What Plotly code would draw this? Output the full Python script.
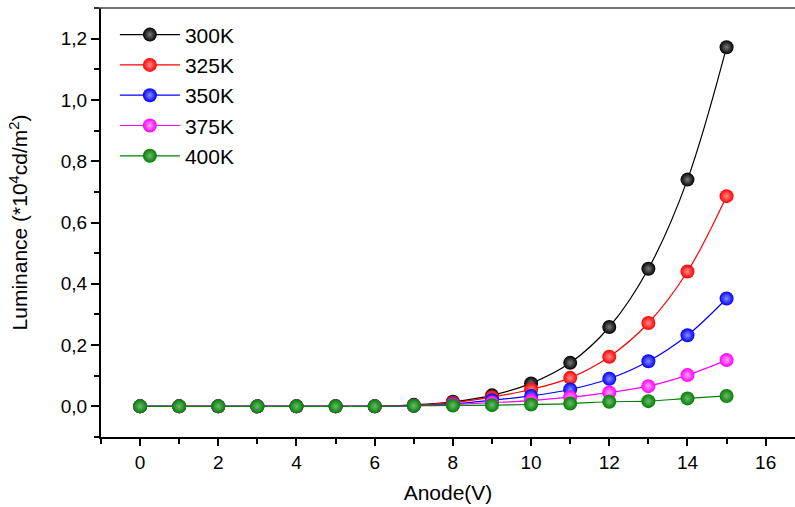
import plotly.graph_objects as go

anode_v = list(range(16))
lum_300K = [0, 0, 0, 0, 0, 0, 0, 0.005, 0.015, 0.036, 0.075, 0.142, 0.259, 0.449, 0.740, 1.172]
lum_325K = [0, 0, 0, 0, 0, 0, 0, 0.003, 0.012, 0.030, 0.055, 0.093, 0.162, 0.272, 0.440, 0.686]
lum_350K = [0, 0, 0, 0, 0, 0, 0, 0.002, 0.008, 0.020, 0.034, 0.055, 0.090, 0.147, 0.232, 0.352]
lum_375K = [0, 0, 0, 0, 0, 0, 0, 0.002, 0.006, 0.012, 0.019, 0.030, 0.045, 0.066, 0.102, 0.151]
lum_400K = [0, 0, 0, 0, 0, 0, 0, 0.002, 0.003, 0.004, 0.006, 0.009, 0.015, 0.017, 0.026, 0.034]

series_names = ["300K", "325K", "350K", "375K", "400K"]
series_values = [lum_300K, lum_325K, lum_350K, lum_375K, lum_400K]
colors = ["#000000", "#ff0000", "#0000ff", "#ff00ff", "#008000"]
highlights = ["#7a7a7a", "#ff8a8a", "#8a8aff", "#ffa0ff", "#70b870"]

FONT = "Liberation Sans, Arial, sans-serif"

fig = go.Figure()
for name, vals, c, h in zip(series_names, series_values, colors, highlights):
    fig.add_trace(go.Scatter(
        x=anode_v, y=vals, name=name, mode="lines+markers",
        line=dict(color=c, width=1.2, shape="spline", smoothing=1),
        marker=dict(size=14, color=c, line=dict(width=0),
                    gradient=dict(type="radial", color=h)),
    ))

fig.update_layout(
    width=795, height=507,
    margin=dict(l=101, r=0, t=8, b=70),
    paper_bgcolor="white", plot_bgcolor="white",
    separators=", ",
    font=dict(family=FONT, color="black"),
    showlegend=True,
    legend=dict(x=0.02, y=0.985, xanchor="left", yanchor="top",
                bgcolor="rgba(0,0,0,0)", font=dict(size=21, family=FONT),
                itemwidth=60, tracegroupgap=0),
    xaxis=dict(
        range=[-1, 16.75], showgrid=False, zeroline=False, automargin=False,
        showline=True, linecolor="black", linewidth=2,
        ticks="outside", ticklen=7, tickwidth=1.5, tickcolor="black",
        tick0=0, dtick=2, tickfont=dict(size=19),
        minor=dict(dtick=1, tick0=0, ticks="outside", ticklen=5, tickwidth=1.5, tickcolor="black"),
        title=dict(text="Anode(V)", font=dict(size=21), standoff=14),
    ),
    yaxis=dict(
        range=[-0.1, 1.3], showgrid=False, zeroline=False, automargin=False,
        showline=True, linecolor="black", linewidth=2,
        ticks="outside", ticklen=8, tickwidth=1.5, tickcolor="black",
        tick0=0, dtick=0.2, tickformat=".1f", tickfont=dict(size=19),
        minor=dict(dtick=0.1, ticks="outside", ticklen=5, tickwidth=1.5, tickcolor="black"),
        title=dict(text="Luminance (*10<sup>4</sup>cd/m<sup>2</sup>)", font=dict(size=21), standoff=27),
    ),
    shapes=[dict(type="line", xref="paper", yref="paper", x0=-0.01, x1=1, y0=1, y1=1,
                 line=dict(color="#444444", width=1.5))],
)

fig.write_html("out.html", config={"displayModeBar": False},
               post_script="document.body.style.margin='0';document.body.style.overflow='hidden';")
